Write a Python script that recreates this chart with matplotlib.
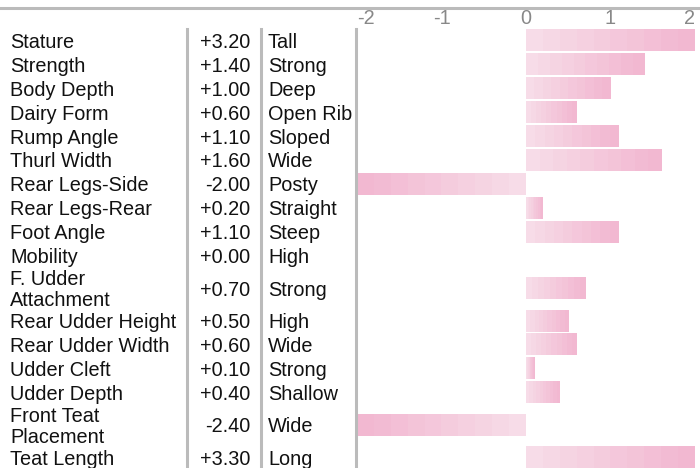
import matplotlib
matplotlib.use('Agg')
import matplotlib.pyplot as plt
import matplotlib.transforms as mtransforms
from matplotlib.colors import LinearSegmentedColormap
from matplotlib.lines import Line2D
import numpy as np

traits = ['Stature', 'Strength', 'Body Depth', 'Dairy Form', 'Rump Angle', 'Thurl Width',
          'Rear Legs-Side', 'Rear Legs-Rear', 'Foot Angle', 'Mobility', 'F. Udder\nAttachment',
          'Rear Udder Height', 'Rear Udder Width', 'Udder Cleft', 'Udder Depth',
          'Front Teat\nPlacement', 'Teat Length']
values = [3.2, 1.4, 1.0, 0.6, 1.1, 1.6, -2.0, 0.2, 1.1, 0.0, 0.7,
          0.5, 0.6, 0.1, 0.4, -2.4, 3.3]
descriptors = ['Tall', 'Strong', 'Deep', 'Open Rib', 'Sloped', 'Wide', 'Posty', 'Straight',
               'Steep', 'High', 'Strong', 'High', 'Wide', 'Strong', 'Shallow', 'Wide', 'Long']
ticks = [-2, -1, 0, 1, 2]

plt.rcParams['font.family'] = ['Liberation Sans', 'DejaVu Sans']
W, H = 700, 468
fs = 14.3
grey = '#bbbbbb'

fig = plt.figure(figsize=(W / 100, H / 100), dpi=100)

# row layout (two-line labels get taller rows)
row_px = 23.9
heights = [1.72 if '\n' in t else 1.0 for t in traits]
total = sum(heights)
centers = np.cumsum(heights) - np.array(heights) / 2
top_px = 29
ax_h = total * row_px
ax = fig.add_axes([357 / W, (H - top_px - ax_h) / H, 338 / W, ax_h / H])

cmap = LinearSegmentedColormap.from_list('pinks', ['#f7dce8', '#f2b8d1'])
grad = np.linspace(0, 1, 10)[None, :]
bar_h = 0.88
for c, v in zip(centers, values):
    if v == 0:
        continue
    vc = float(np.clip(v, -2, 2))
    g = grad if vc > 0 else grad[:, ::-1]
    ax.imshow(g, cmap=cmap, aspect='auto', interpolation='nearest',
              extent=[min(0, vc), max(0, vc), c + bar_h / 2, c - bar_h / 2])
ax.set_xlim(-2, 2)
ax.set_ylim(total, 0)
ax.axis('off')

# table text, nudged down a touch to sit on the bar centres
nudge = mtransforms.ScaledTranslation(0, -1.5 / 100, fig.dpi_scale_trans)
trans = mtransforms.blended_transform_factory(fig.transFigure, ax.transData) + nudge
for c, t, v, d in zip(centers, traits, values, descriptors):
    ax.text(10 / W, c, t, transform=trans, ha='left', va='center', fontsize=fs,
            color='#111111', linespacing=1.12)
    ax.text(250 / W, c, f'{v:+.2f}', transform=trans, ha='right', va='center',
            fontsize=fs, color='#111111')
    ax.text(268 / W, c, d, transform=trans, ha='left', va='center', fontsize=fs,
            color='#111111')

# tick labels along the top
ttrans = mtransforms.blended_transform_factory(ax.transData, fig.transFigure)
aligns = ['left', 'center', 'center', 'center', 'right']
for tk, al in zip(ticks, aligns):
    ax.text(tk, (H - 19) / H, str(tk), transform=ttrans, ha=al, va='center',
            fontsize=fs, color='#888888')

# separators
fig.add_artist(Line2D([0, 1], [(H - 8) / H] * 2, transform=fig.transFigure,
                      color=grey, lw=2.2))
for x in [187, 261, 356]:
    fig.add_artist(Line2D([x / W] * 2, [0, (H - 29) / H], transform=fig.transFigure,
                          color=grey, lw=2.2))

fig.savefig('out.png', dpi=100)
